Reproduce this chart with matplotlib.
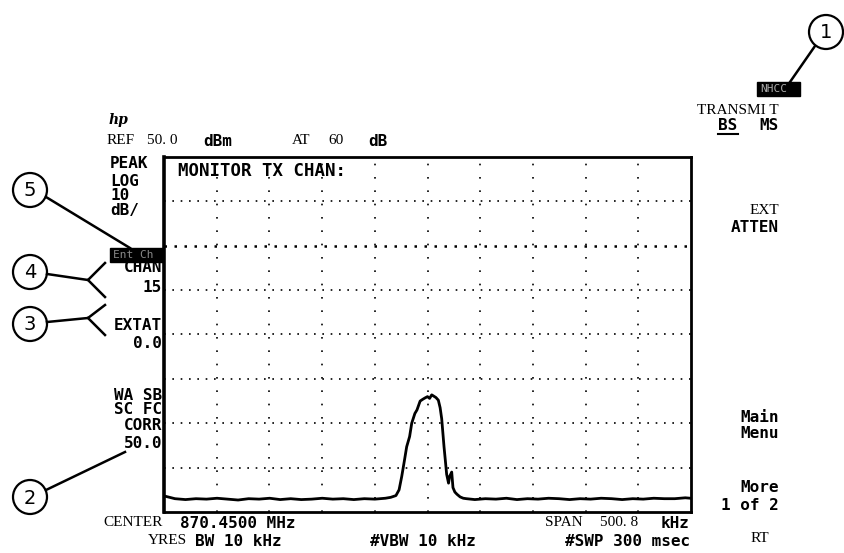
import numpy as np
import matplotlib
matplotlib.use("Agg")
from matplotlib import pyplot as plt
from matplotlib.patches import Circle, Rectangle

# trace: offset from centre (kHz) and level (dBm)
freq_khz = [-250, -240, -230, -220, -210, -200, -190, -180, -170, -160,
            -150, -140, -130, -120, -110, -100, -90, -80, -70, -60,
            -50, -40, -35, -30, -27, -24.5, -22, -19.8, -17, -15,
            -12, -10, -7, -4.5, -2.4, 0, 2, 4, 6, 8,
            10.3, 12, 13.5, 15.7, 17, 18.2, 20, 21, 23, 24.2,
            26, 28, 31, 34, 37, 45, 55, 65, 75, 85,
            95, 105, 115, 125, 135, 145, 155, 165, 175, 185,
            195, 205, 215, 225, 235, 245, 250]
level_dbm = [-26.4, -27.0, -27.2, -27.0, -27.1, -26.9, -27.1, -27.3, -27.0, -27.1,
             -26.9, -27.2, -27.0, -27.2, -27.1, -26.9, -27.1, -27.0, -27.2, -27.0,
             -27.1, -26.9, -26.7, -26.3, -25.0, -22.0, -18.5, -15.3, -13.0, -10.0,
             -7.8, -7.0, -5.0, -4.6, -4.3, -4.0, -4.4, -3.6, -3.9, -4.2,
             -4.8, -6.5, -9.0, -15.3, -18.5, -21.5, -23.5, -22.0, -21.0, -24.5,
             -25.5, -26.0, -26.6, -26.9, -27.0, -27.2, -27.0, -27.1, -26.9, -27.2,
             -27.0, -27.1, -26.9, -27.0, -27.2, -27.0, -27.1, -26.9, -27.0, -27.2,
             -27.0, -27.1, -26.9, -27.0, -27.0, -26.8, -26.9]

ref_level = 50.0
db_per_div = 10
span_khz = 500.8

left_labels = [("PEAK", 163), ("LOG", 181), ("10", 196), ("dB/", 210)]
right_labels = [("CHAN", 268), ("15", 287), ("EXTAT", 325), ("0.0", 343),
                ("WA SB", 395), ("SC FC", 410), ("CORR", 426), ("50.0", 443)]
menu_labels = [("Main", 418), ("Menu", 433), ("More", 487), ("1 of 2", 506)]
callouts = [("1", 826, 32), ("5", 30, 190), ("4", 30, 272), ("3", 30, 324), ("2", 30, 497)]

mono = "DejaVu Sans Mono"
serif = "Liberation Serif"

fig = plt.figure(figsize=(8.44, 5.53), dpi=100)
W, H = 844, 553
ax = fig.add_axes([164 / W, 1 - 512 / H, (691 - 164) / W, (512 - 157) / H])
ax.plot(freq_khz, level_dbm, color="black", lw=2)
ax.set_xlim(-span_khz / 2, span_khz / 2)
ax.set_ylim(ref_level - 8 * db_per_div, ref_level)

for k in range(1, 10):
    ax.axvline(-span_khz / 2 + k * span_khz / 10, color="black", lw=1.2,
               ls=(0, (1, 7)))
for k in range(1, 8):
    y = ref_level - k * db_per_div
    if k == 2:
        ax.axhline(y, color="black", lw=1.8, ls=(0, (1, 3)))
    else:
        ax.axhline(y, color="black", lw=1.2, ls=(0, (1, 4)))
ax.set_xticks([])
ax.set_yticks([])
for s in ax.spines.values():
    s.set_linewidth(2)
ax.spines["left"].set_linewidth(2.6)

ax.text(0.026, 0.985, "MONITOR TX CHAN:", transform=ax.transAxes, family=mono,
        weight="bold", fontsize=12.5, va="top", ha="left")

# overlay in pixel coordinates
ov = fig.add_axes([0, 0, 1, 1])
ov.set_xlim(0, W)
ov.set_ylim(H, 0)
ov.axis("off")
ov.patch.set_visible(False)

def t(x, y, s, fam=mono, size=11.5, ha="left", bold=True, color="black"):
    ov.text(x, y, s, family=fam, fontsize=size, ha=ha, va="center",
            weight="bold" if bold else "normal", color=color)

t(109, 120, "hp", fam="DejaVu Serif", size=10, bold=True)
ov.texts[-1].set_style("italic")
t(107, 141, "REF", fam=serif, size=11, bold=False)
t(147, 141, "50. 0", fam=serif, size=11, bold=False)
t(203, 141, "dBm")
t(292, 141, "AT", fam=serif, size=11, bold=False)
t(328, 141, "60", fam=serif, size=11, bold=False)
t(368, 141, "dB")

for s, y in left_labels:
    t(110, y, s)
for s, y in right_labels:
    t(162, y, s, ha="right")

ov.add_patch(Rectangle((110, 248), 53, 14, color="black"))
t(113, 255, "Ent Ch", size=8, color="#888888", bold=False)

t(103, 523, "CENTER", fam=serif, size=11, bold=False)
t(180, 523, "870.4500 MHz")
t(148, 541, "YRES", fam=serif, size=11, bold=False)
t(195, 541, "BW 10 kHz")
t(370, 541, "#VBW 10 kHz")
t(545, 523, "SPAN", fam=serif, size=11, bold=False)
t(600, 523, "500. 8", fam=serif, size=11, bold=False)
t(690, 523, "kHz", ha="right")
t(690, 541, "#SWP 300 msec", ha="right")

ov.add_patch(Rectangle((757, 82), 43, 14, color="black"))
t(760, 89, "NHCC", size=8, color="#aaaaaa", bold=False)
t(779, 110, "TRANSMI T", fam=serif, size=11, bold=False, ha="right")
t(718, 126, "BS")
ov.plot([718, 738], [134, 134], color="black", lw=1.5)
t(779, 126, "MS", ha="right")
t(779, 211, "EXT", fam=serif, size=11, bold=False, ha="right")
t(779, 228, "ATTEN", ha="right")
for s, y in menu_labels:
    t(779, y, s, ha="right")
t(760, 539, "RT", fam=serif, size=11, bold=False, ha="center")

for s, cx, cy in callouts:
    ov.add_patch(Circle((cx, cy), 17, fill=False, lw=1.6, color="black"))
    ov.text(cx, cy + 1, s, family="DejaVu Sans", fontsize=14, ha="center",
            va="center")

lw = 1.8
ov.plot([815, 790], [46, 82], color="black", lw=lw)
ov.plot([46, 130], [197, 248], color="black", lw=lw)
ov.plot([47, 88, 105], [274, 280, 263], color="black", lw=lw)
ov.plot([88, 105], [280, 297], color="black", lw=lw)
ov.plot([47, 88, 105], [322, 318, 305], color="black", lw=lw)
ov.plot([88, 105], [318, 335], color="black", lw=lw)
ov.plot([46, 125], [490, 452], color="black", lw=lw)

fig.savefig("out.png", dpi=100)
